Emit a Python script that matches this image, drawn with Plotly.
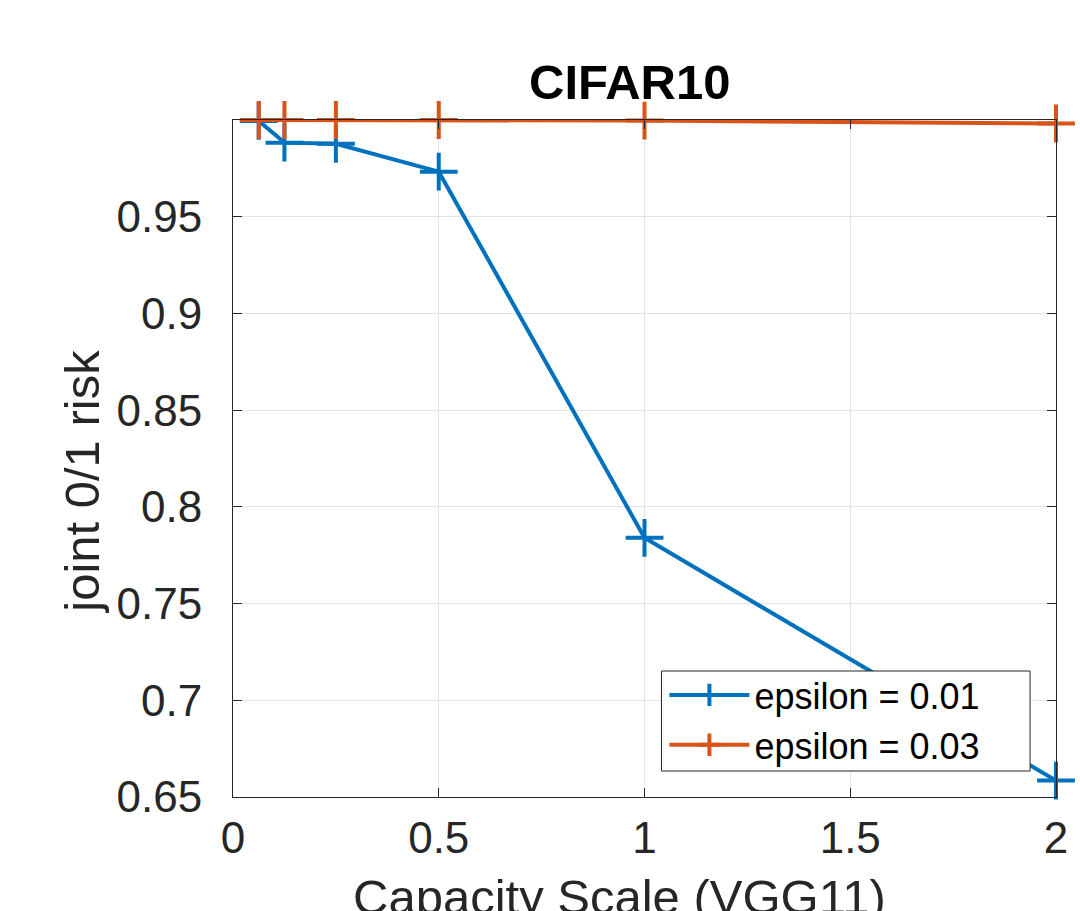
import plotly.graph_objects as go

capacity_scale = [0.0625, 0.125, 0.25, 0.5, 1, 2]
risk_eps_001 = [0.9995, 0.9883, 0.9877, 0.9733, 0.784, 0.6585]
risk_eps_003 = [1.0, 1.0, 1.0, 1.0, 0.9997, 0.9982]
series_names = ["epsilon = 0.01", "epsilon = 0.03"]
x_ticks = [0, 0.5, 1, 1.5, 2]
x_tick_labels = ["0", "0.5", "1", "1.5", "2"]
y_ticks = [0.65, 0.7, 0.75, 0.8, 0.85, 0.9, 0.95]
y_tick_labels = ["0.65", "0.7", "0.75", "0.8", "0.85", "0.9", "0.95"]

BLUE = "#0072BD"
ORANGE = "#D95319"
AX = "#262626"
FONT = "Liberation Sans, Arial, Helvetica, sans-serif"

fig = go.Figure()
for ys, name, col in [(risk_eps_001, series_names[0], BLUE), (risk_eps_003, series_names[1], ORANGE)]:
    fig.add_trace(go.Scatter(
        x=capacity_scale, y=ys, name=name, mode="lines+markers",
        line=dict(color=col, width=4),
        marker=dict(symbol="cross-thin", size=27, line=dict(color=col, width=4)),
        cliponaxis=False,
    ))

axis_common = dict(
    showline=True, linecolor=AX, linewidth=1, mirror="ticks",
    ticks="inside", ticklen=9, tickwidth=1, tickcolor=AX,
    showgrid=True, gridcolor="#e3e3e3", gridwidth=1, zeroline=False,
    tickfont=dict(family=FONT, size=44, color=AX),
)
fig.update_xaxes(range=[0, 2], tickvals=x_ticks, ticktext=x_tick_labels, ticklabelstandoff=2, **axis_common)
fig.update_yaxes(range=[0.65, 1.0], tickvals=y_ticks, ticktext=y_tick_labels, ticklabelstandoff=21, **axis_common)

fig.update_layout(
    width=1080, height=911,
    margin=dict(l=233, r=21, t=120, b=114),
    paper_bgcolor="white", plot_bgcolor="white",
    showlegend=True,
    legend=dict(
        x=0.5242, y=0.195, xanchor="left", yanchor="top",
        orientation="v",
        bgcolor="rgba(0,0,0,0)", borderwidth=0,
        font=dict(family=FONT, size=36, color="black"),
        itemwidth=80, tracegroupgap=0,
    ),
    shapes=[
        # legend frame (MATLAB-style box, wider than the text)
        dict(type="rect", xref="paper", yref="paper", x0=0.5206, x1=0.9685, y0=0.0384, y1=0.1861,
             fillcolor="white", line=dict(color=AX, width=1), layer="above"),
    ],
    annotations=[
        dict(text="<b>CIFAR10</b>", x=0.4818, y=1.056, xref="paper", yref="paper",
             xanchor="center", yanchor="middle", showarrow=False,
             font=dict(family=FONT, size=49, color="black")),
        dict(text="Capacity Scale (VGG11)", x=0.4697, y=-0.105, xref="paper", yref="paper",
             xanchor="center", yanchor="top", showarrow=False,
             font=dict(family=FONT, size=49, color=AX)),
        dict(text="joint 0/1 risk", x=-0.1828, y=0.465, xref="paper", yref="paper",
             xanchor="center", yanchor="middle", showarrow=False, textangle=-90,
             font=dict(family=FONT, size=49, color=AX)),
    ],
)

fig.write_html("out.html", config={"displayModeBar": False},
               post_script="document.body.style.margin='0';document.body.style.overflow='hidden';")
